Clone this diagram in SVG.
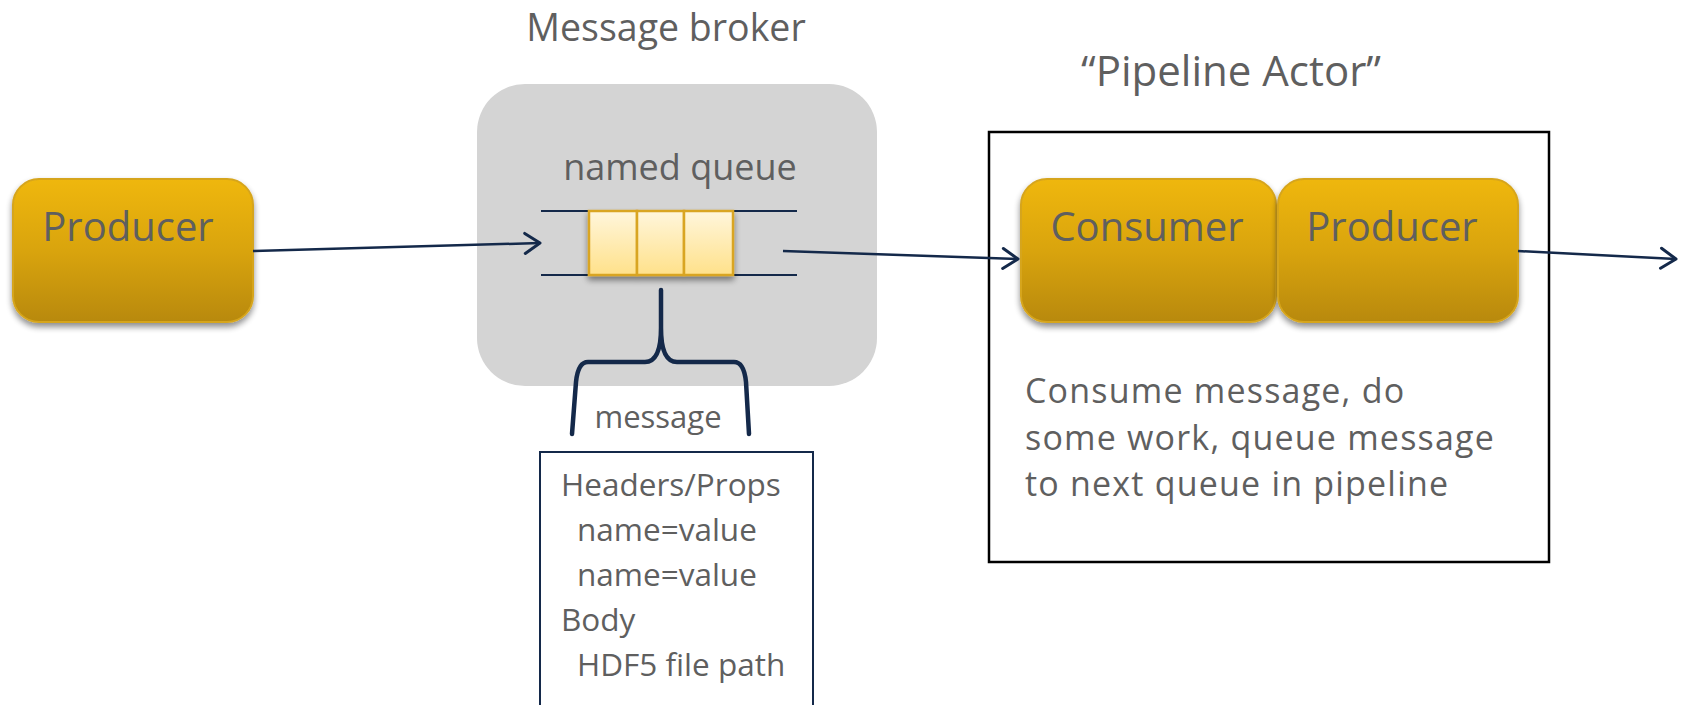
<svg xmlns="http://www.w3.org/2000/svg" width="1681" height="705" viewBox="0 0 1681 705">
  <defs>
    <linearGradient id="gold" x1="0" y1="0" x2="0" y2="1">
      <stop offset="0" stop-color="#EFB70D"/>
      <stop offset="0.5" stop-color="#D9A40C"/>
      <stop offset="1" stop-color="#B8890A"/>
    </linearGradient>
    <linearGradient id="cell" x1="0" y1="0" x2="0" y2="1">
      <stop offset="0" stop-color="#FFF6DC"/>
      <stop offset="1" stop-color="#FFE18A"/>
    </linearGradient>
    <filter id="shadow" x="-10%" y="-10%" width="120%" height="130%">
      <feGaussianBlur in="SourceAlpha" stdDeviation="3"/>
      <feOffset dx="0" dy="4" result="b"/>
      <feComponentTransfer><feFuncA type="linear" slope="0.45"/></feComponentTransfer>
      <feMerge><feMergeNode/><feMergeNode in="SourceGraphic"/></feMerge>
    </filter>
    <marker id="open-arrow" viewBox="0 0 20 24" refX="18" refY="12" markerWidth="20" markerHeight="24" markerUnits="userSpaceOnUse" orient="auto">
      <path d="M3,2 L18,12 L3,22" fill="none" stroke="#14294A" stroke-width="3" stroke-linecap="round" stroke-linejoin="round"/>
    </marker>
    <style>
      text { font-family: "Open Sans", "Noto Sans", sans-serif; fill: #5F5F5F; }
      .box { fill: url(#gold); stroke: #D6A51E; stroke-width: 2; filter: url(#shadow); }
      .lbl { font-size: 40px; text-anchor: middle; }
      .cell { fill: url(#cell); stroke: #D9A520; stroke-width: 2.5; }
      .qline { stroke: #14294A; stroke-width: 2; }
      .conn { fill: none; stroke: #14294A; stroke-width: 2.5; marker-end: url(#open-arrow); }
      .msg { font-size: 31.5px; }
      .desc { font-size: 34px; letter-spacing: 1.2px; }
    </style>
  </defs>

  <!-- left producer -->
  <g id="producer">
    <rect class="box" x="13" y="179" width="240" height="143" rx="26"/>
    <text class="lbl" x="128" y="241">Producer</text>
  </g>

  <!-- broker with its named queue -->
  <g id="broker">
    <text x="666" y="41" font-size="37.5" text-anchor="middle">Message broker</text>
    <rect x="477" y="84" width="400" height="302" rx="48" fill="#D4D4D4"/>
    <text x="680" y="180" font-size="36" text-anchor="middle">named queue</text>
    <line class="qline" x1="541" y1="211" x2="797" y2="211"/>
    <line class="qline" x1="541" y1="275" x2="797" y2="275"/>
    <g filter="url(#shadow)">
      <rect class="cell" x="589" y="211" width="48" height="64"/>
      <rect class="cell" x="637" y="211" width="47" height="64"/>
      <rect class="cell" x="684" y="211" width="49" height="64"/>
    </g>
  </g>

  <!-- brace pointing at a queued message -->
  <g id="message-brace">
    <path d="M661,290 L661,328 Q661,362 645,362 L588,362 Q578,362 576,382 L572,434 M661,328 Q661,362 677,362 L734,362 Q744,362 746,382 L749,434" fill="none" stroke="#14294A" stroke-width="4.5" stroke-linejoin="round" stroke-linecap="round"/>
    <text x="658" y="428" font-size="31" text-anchor="middle">message</text>
  </g>

  <!-- message contents -->
  <g id="message-contents">
    <rect x="540" y="452" width="273" height="270" fill="#FFFFFF" stroke="#14294A" stroke-width="2"/>
    <text class="msg" x="561" y="496">Headers/Props</text>
    <text class="msg" x="577" y="541">name=value</text>
    <text class="msg" x="577" y="586">name=value</text>
    <text class="msg" x="561" y="631">Body</text>
    <text class="msg" x="577" y="676">HDF5 file path</text>
  </g>

  <!-- pipeline actor -->
  <g id="pipeline-actor">
    <text x="1231" y="86" font-size="42" text-anchor="middle">“Pipeline Actor”</text>
    <rect x="989" y="132" width="560" height="430" fill="none" stroke="#000000" stroke-width="2.5"/>
    <text class="desc" x="1025" y="403">Consume message, do</text>
    <text class="desc" x="1025" y="449.5">some work, queue message</text>
    <text class="desc" x="1025" y="496">to next queue in pipeline</text>
  </g>
  <g id="consumer">
    <rect class="box" x="1021" y="179" width="255" height="143" rx="26"/>
    <text class="lbl" x="1147" y="241">Consumer</text>
  </g>
  <g id="actor-producer">
    <rect class="box" x="1278" y="179" width="240" height="143" rx="26"/>
    <text class="lbl" x="1392" y="241">Producer</text>
  </g>

  <!-- connectors -->
  <g id="connectors">
    <path class="conn" d="M253,251 L540,243"/>
    <path class="conn" d="M783,251 L1018,259"/>
    <path class="conn" d="M1518,251 L1676,259"/>
  </g>
</svg>
